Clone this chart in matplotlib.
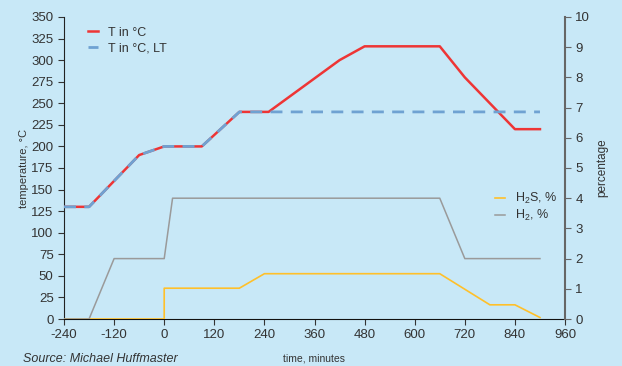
import matplotlib
matplotlib.use("Agg")
import matplotlib.pyplot as plt

# time axis, minutes
t_time = [-240, -180, -60, 0, 90, 180, 250, 420, 480, 660, 720, 840, 900]
t_vals = [130, 130, 190, 200, 200, 240, 240, 300, 316, 316, 280, 220, 220]

lt_time = [-240, -180, -60, 0, 90, 180, 900]
lt_vals = [130, 130, 190, 200, 200, 240, 240]

h2s_time = [-240, 0, 0, 180, 240, 660, 780, 840, 900]
h2s_vals = [0, 0, 1.02, 1.02, 1.5, 1.5, 0.47, 0.47, 0.05]

h2_time = [-240, -180, -120, 0, 20, 660, 720, 900]
h2_vals = [0, 0, 2, 2, 4, 4, 2, 2]

x_ticks = list(range(-240, 961, 120))
y_ticks = list(range(0, 351, 25))
pct_ticks = list(range(0, 11))

BG = "#c8e8f7"
RED = "#ee3535"
BLUE = "#6fa2d2"
GRAY = "#9a9a9a"
YELLOW = "#ffc02a"
TXT = "#333333"

plt.rcParams["font.family"] = ["Liberation Sans", "DejaVu Sans"]
plt.rcParams["mathtext.fontset"] = "custom"
plt.rcParams["mathtext.rm"] = "Liberation Sans"
plt.rcParams["axes.unicode_minus"] = False

fig = plt.figure(figsize=(6.22, 3.66), dpi=100, facecolor=BG)
ax = fig.add_axes([0.1029, 0.1284, 0.8055, 0.8252])
ax.set_facecolor(BG)
ax2 = ax.twinx()

l1, = ax.plot(t_time, t_vals, color=RED, lw=1.8, label="T in °C", zorder=3)
l2, = ax.plot(lt_time, lt_vals, color=BLUE, lw=2.0, dashes=(4.3, 3.0),
              label="T in °C, LT", zorder=4)

l3, = ax2.plot(h2s_time, h2s_vals, color=YELLOW, lw=1.2, label="H$_\\mathrm{2}$S, %")
l4, = ax2.plot(h2_time, h2_vals, color=GRAY, lw=1.1, label="H$_\\mathrm{2}$, %")

ax.set_xlim(-240, 960)
ax.set_ylim(0, 350)
ax2.set_ylim(0, 10)
ax.set_xticks(x_ticks)
ax.set_yticks(y_ticks)
ax2.set_yticks(pct_ticks)

for a in (ax, ax2):
    a.spines["top"].set_visible(False)
ax.spines["right"].set_visible(False)
ax2.spines["left"].set_visible(False)
ax2.spines["bottom"].set_visible(False)
ax.spines["left"].set_color("#222222")
ax.spines["bottom"].set_color("#111111")
ax2.spines["right"].set_color("#666666")
ax2.spines["right"].set_linewidth(1.5)

ax.tick_params(axis="both", labelsize=9.5, colors=TXT, length=4, width=0.8)
ax.tick_params(axis="x", pad=3)
ax2.tick_params(axis="y", labelsize=9.5, colors=TXT, length=4, width=0.8)
ax2.tick_params(axis="y", color="#666666")

ax.set_ylabel("temperature, °C", fontsize=8, color=TXT, labelpad=2)
ax2.set_ylabel("percentage", fontsize=8.5, color=TXT, labelpad=4)

leg1 = ax.legend(handles=[l1, l2], loc="upper left", bbox_to_anchor=(0.025, 1.005),
                 frameon=False, fontsize=9, handlelength=0.8, handletextpad=0.8,
                 labelspacing=0.3, labelcolor=TXT)
leg2 = ax2.legend(handles=[l3, l4], loc="upper left", bbox_to_anchor=(0.838, 0.46),
                  frameon=False, fontsize=9, handlelength=0.8, handletextpad=0.8,
                  labelspacing=0.15, labelcolor=TXT)

fig.text(0.505, 0.012, "time, minutes", fontsize=7.5, color=TXT, ha="center")
fig.text(0.037, 0.012, "Source: Michael Huffmaster", fontsize=9, color=TXT,
         style="italic")

fig.savefig("out.png", dpi=100, facecolor=BG)
